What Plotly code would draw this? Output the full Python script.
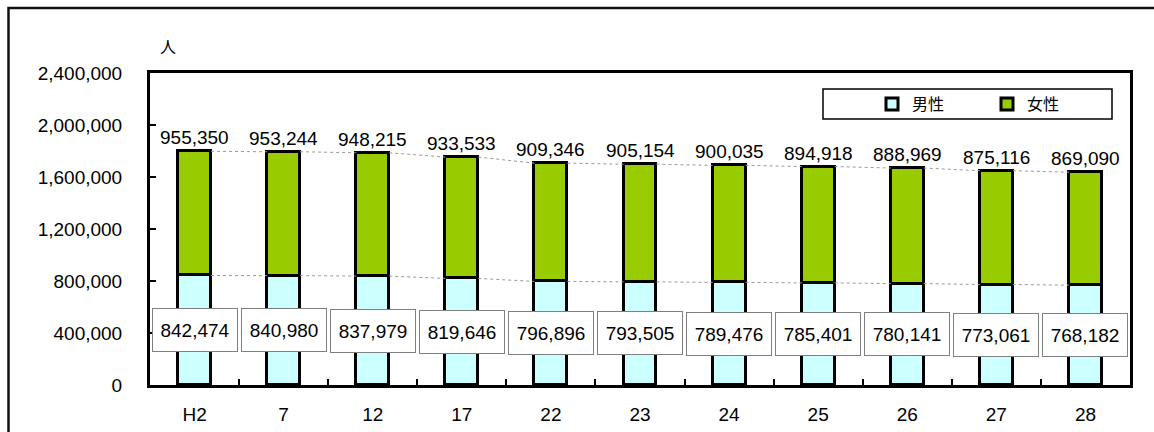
import plotly.graph_objects as go

categories = ["H2", "7", "12", "17", "22", "23", "24", "25", "26", "27", "28"]
male = [842474, 840980, 837979, 819646, 796896, 793505, 789476, 785401, 780141, 773061, 768182]
female = [955350, 953244, 948215, 933533, 909346, 905154, 900035, 894918, 888969, 875116, 869090]
y_ticks = [0, 400000, 800000, 1200000, 1600000, 2000000, 2400000]

FONT = "Liberation Sans, Arial, Noto Sans CJK JP"
W, H = 1154, 432
L, R, T, B = 150, 24, 73, 47
PW, PH = W - L - R, H - T - B
BAR_W = 0.37

xs = list(range(len(categories)))
totals = [m + f for m, f in zip(male, female)]

def px_x(p):
    return (p - L) / PW

def px_y(p):
    return (H - B - p) / PH

fig = go.Figure()
fig.add_trace(go.Bar(x=xs, y=male, name="男性", width=BAR_W,
                     marker=dict(color="#CCFFFF", line=dict(color="black", width=3))))
fig.add_trace(go.Bar(x=xs, y=female, name="女性", width=BAR_W,
                     marker=dict(color="#99CC00", line=dict(color="black", width=3))))

# series lines (connect bar tops between neighbours)
for series in (male, totals):
    lx, ly = [], []
    for i in range(len(xs) - 1):
        lx += [xs[i] + BAR_W / 2, xs[i + 1] - BAR_W / 2, None]
        ly += [series[i], series[i + 1], None]
    fig.add_trace(go.Scatter(x=lx, y=ly, mode="lines", showlegend=False, hoverinfo="skip",
                             line=dict(color="#9a9a9a", width=1, dash="dot")))

# boundary ticks on secondary x axis
fig.add_trace(go.Scatter(x=[0], y=[0], xaxis="x2", mode="markers", marker=dict(opacity=0),
                         showlegend=False, hoverinfo="skip"))

annotations = []
for i, (m, f, t) in enumerate(zip(male, female, totals)):
    annotations.append(dict(x=xs[i], y=t, xref="x", yref="y", text=f"{f:,}", showarrow=False,
                            yanchor="bottom", yshift=1, font=dict(size=19, color="black", family=FONT)))
    annotations.append(dict(x=xs[i], y=m / 2, xref="x", yref="y", text=f"{m:,}", showarrow=False,
                            yanchor="middle", width=82, height=40, borderpad=1,
                            bgcolor="white", bordercolor="#808080", borderwidth=1,
                            font=dict(size=19, color="black", family=FONT)))
annotations.append(dict(x=px_x(168), y=px_y(47), xref="paper", yref="paper", text="人",
                        showarrow=False, xanchor="center", yanchor="middle",
                        font=dict(size=16, color="black", family=FONT)))

shapes = [
    dict(type="rect", xref="paper", yref="paper", x0=px_x(8.5), x1=px_x(1170), y0=px_y(450), y1=px_y(8),
         line=dict(color="#111", width=2.5), fillcolor="rgba(0,0,0,0)", layer="below"),
    dict(type="rect", xref="paper", yref="paper", x0=px_x(823), x1=px_x(1112), y0=px_y(119), y1=px_y(89),
         line=dict(color="black", width=1.5), fillcolor="white", layer="below"),
]

fig.update_layout(
    width=W, height=H,
    margin=dict(l=L, r=R, t=T, b=B, pad=0, autoexpand=False),
    paper_bgcolor="white", plot_bgcolor="white",
    barmode="stack", bargap=0,
    font=dict(family=FONT, size=19, color="black"),
    showlegend=True,
    legend=dict(orientation="h", x=px_x(872), y=px_y(104), xanchor="left", yanchor="middle",
                bgcolor="rgba(0,0,0,0)", borderwidth=0, font=dict(size=16, family=FONT),
                itemwidth=30, entrywidth=70, traceorder="normal"),
    xaxis=dict(range=[-0.5, len(xs) - 0.5], tickvals=xs, ticktext=categories, ticks="",
               showline=True, linecolor="black", linewidth=3, mirror=True, showgrid=False,
               zeroline=False, ticklabelstandoff=10, tickfont=dict(size=19), automargin=False),
    xaxis2=dict(range=[-0.5, len(xs) - 0.5], overlaying="x", side="bottom",
                tickvals=[i + 0.5 for i in xs[:-1]], ticks="inside", ticklen=6, tickwidth=2,
                tickcolor="black", showticklabels=False, showgrid=False, zeroline=False,
                showline=False, automargin=False),
    yaxis=dict(range=[0, 2400000], tickvals=y_ticks, tickformat=",", ticks="inside", ticklen=6,
               tickwidth=2, tickcolor="black", showline=True, linecolor="black", linewidth=3,
               mirror=True, showgrid=False, zeroline=False, ticklabelstandoff=21,
               tickfont=dict(size=19), automargin=False),
    annotations=annotations,
    shapes=shapes,
)

fig.write_html("out.html", config={"displayModeBar": False},
               post_script="document.body.style.margin='0';")
